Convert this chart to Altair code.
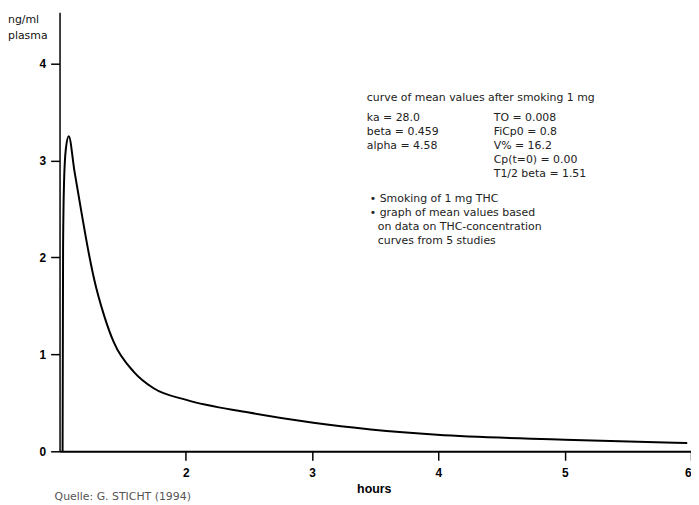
import altair as alt
import pandas as pd

# curve of mean THC plasma values (hours, ng/ml)
hours = [1.024, 1.028, 1.036, 1.050, 1.073, 1.118, 1.173, 1.235, 1.275, 1.353,
         1.431, 1.588, 1.745, 2.004, 2.50, 3.01, 3.99, 5.0, 5.97]
conc = [0.0, 2.11, 2.79, 3.12, 3.25, 2.89, 2.47, 2.02, 1.77, 1.40,
        1.12, 0.82, 0.65, 0.53, 0.40, 0.295, 0.17, 0.12, 0.085]

x_ticks = [2, 3, 4, 5, 6]
y_ticks = [0, 1, 2, 3, 4]

header = "curve of mean values after smoking 1 mg"
params_left = ["ka = 28.0", "beta = 0.459", "alpha = 4.58"]
params_right = ["TO = 0.008", "FiCp0 = 0.8", "V% = 16.2", "Cp(t=0) = 0.00", "T1/2 beta = 1.51"]
bullets = ["\u2022 Smoking of 1 mg THC", "\u2022 graph of mean values based"]
bullet_cont = ["on data on THC-concentration", "curves from 5 studies"]
unit_lines = ["ng/ml", "plasma"]
source = "Quelle: G. STICHT (1994)"

df = pd.DataFrame({"t": hours, "c": conc})

FONT = "DejaVu Sans"

line = alt.Chart(df).mark_line(color="black", strokeWidth=2, interpolate="monotone").encode(
    x=alt.X("t:Q",
            scale=alt.Scale(domain=[1, 6], nice=False, zero=False),
            axis=alt.Axis(values=x_ticks, grid=False, tickSize=9, tickWidth=1.5,
                          tickColor="black", domainColor="black", domainWidth=2,
                          labelFont="Liberation Sans", labelFontWeight="bold",
                          labelFontSize=12, labelColor="black", labelPadding=7,
                          title="hours", titleFont="Liberation Sans", titleFontWeight="bold",
                          titleFontSize=12.5, titleColor="black", titleX=317, titleY=38,
                          titleBaseline="middle", titleAlign="center")),
    y=alt.Y("c:Q",
            scale=alt.Scale(domain=[0, 4.53], nice=False),
            axis=alt.Axis(values=y_ticks, grid=False, tickSize=9, tickWidth=1.5,
                          tickColor="black", domainColor="black", domainWidth=1.5,
                          labelFont="Liberation Sans", labelFontWeight="bold",
                          labelFontSize=12, labelColor="black", labelPadding=5,
                          title=None)),
)


def text_layer(lines, x, y0, dy, size=11, color="#222", font=FONT):
    layers = []
    for i, s in enumerate(lines):
        layers.append(
            alt.Chart(pd.DataFrame({"s": [s]})).mark_text(
                align="left", baseline="middle", font=font, fontSize=size, color=color
            ).encode(text="s:N", x=alt.value(x), y=alt.value(y0 + i * dy))
        )
    return layers


# positions in plot-area pixels (plot origin at page x=60, y=10)
texts = []
texts += text_layer([header], 310, 87, 14)
texts += text_layer(params_left, 310, 107, 14)
texts += text_layer(params_right, 438, 107, 14)
texts += text_layer(bullets, 313, 189, 14)
texts += text_layer(bullet_cont, 321, 217, 14)
texts += text_layer(unit_lines, -52, 8, 16, size=11, color="#111")
texts += text_layer([source], -5, 489, 14, size=11, color="#555")

chart = alt.layer(line, *texts).properties(
    width=637, height=443,
    padding={"left": 52, "top": 2, "right": 0, "bottom": 55},
    autosize="none",
    background="white",
).configure_view(stroke=None)

chart.save("out.html", embed_options={"renderer": "svg", "actions": False})
